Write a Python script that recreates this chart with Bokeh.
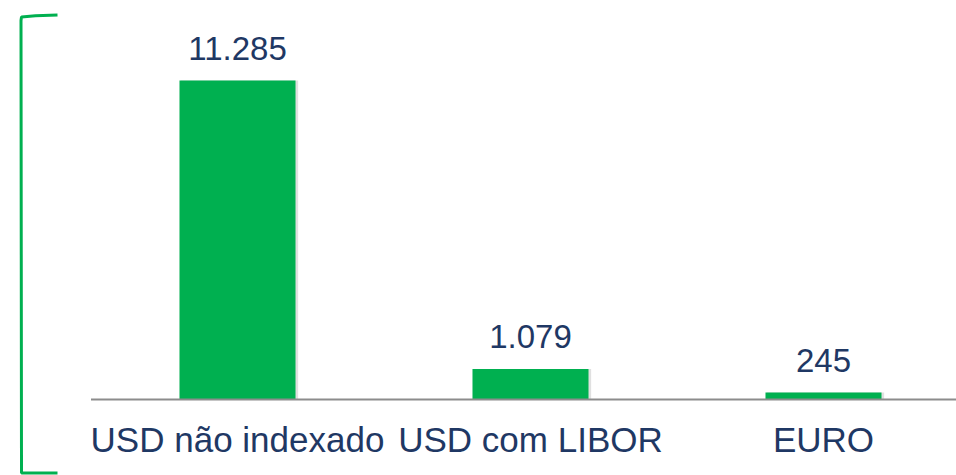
from bokeh.plotting import figure
from bokeh.models import Range1d, ColumnDataSource
from bokeh.core.properties import value
from bokeh.embed import file_html
from bokeh.resources import INLINE

categories = ["USD não indexado", "USD com LIBOR", "EURO"]
values = [11285, 1079, 245]
value_labels = ["11.285", "1.079", "245"]

GREEN = "#00B050"
NAVY = "#1F3864"
FONT = "Liberation Sans"

W, H = 956, 475
OFF = 0
PX_PER_CAT = 293.0
CAT0_PX = 237.0
BASE_PX = 399.0
PX_PER_UNIT = 0.02827

x0 = (OFF - CAT0_PX) / PX_PER_CAT
x1 = (OFF + W - CAT0_PX) / PX_PER_CAT
y1 = (BASE_PX - OFF) / PX_PER_UNIT
y0 = -(OFF + H - BASE_PX) / PX_PER_UNIT


def dx(px):
    return (px - CAT0_PX) / PX_PER_CAT


def dy(py):
    return (BASE_PX - py) / PX_PER_UNIT


p = figure(width=W, height=H, output_backend="svg", toolbar_location=None,
           x_range=Range1d(x0, x1), y_range=Range1d(y0, y1),
           min_border=0, min_border_left=0, min_border_right=0,
           min_border_top=0, min_border_bottom=0)
p.axis.visible = False
p.grid.visible = False
p.outline_line_color = None
p.background_fill_color = "white"
p.border_fill_color = "white"

xs = list(range(len(categories)))
src = ColumnDataSource(dict(x=xs, top=values, lab=value_labels, cat=categories,
                            xs=[x + 0.007 for x in xs]))

# subtle shadow
p.vbar(x="xs", top="top", width=0.4, bottom=0, source=src,
       fill_color="#000000", fill_alpha=0.12, line_color=None)
p.vbar(x="x", top="top", width=0.396, bottom=0, source=src,
       fill_color=GREEN, line_color=None)

# baseline axis line
p.segment(x0=[-0.5], y0=[0], x1=[x1], y1=[0], line_color="#8C8C8C", line_width=2)

p.text(x="x", y="top", text="lab", source=src, text_align="center",
       text_baseline="alphabetic", y_offset=-32, text_color=NAVY,
       text_font=value(FONT), text_font_size="33px")
p.text(x="x", y=0, text="cat", source=src, text_align="center",
       text_baseline="alphabetic", y_offset=40, text_color=NAVY,
       text_font=value(FONT), text_font_size="35px")

# decorative green bracket on the left
p.line(x=[dx(57), dx(35), dx(21), dx(20.5), dx(21), dx(57)],
       y=[dy(14.5), dy(15.2), dy(16.5), dy(20), dy(472.5), dy(472.5)],
       line_color=GREEN, line_width=3)

open("out.html", "w").write(file_html(p, INLINE))
